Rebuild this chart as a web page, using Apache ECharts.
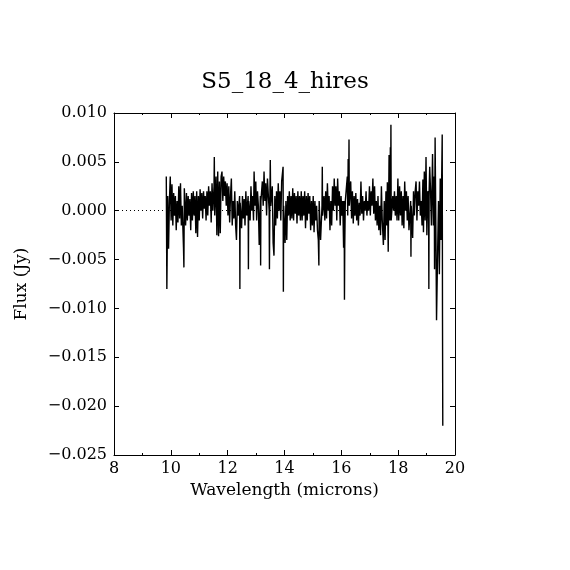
<!DOCTYPE html>
<html>
<head>
<meta charset="utf-8">
<script src="https://cdn.jsdelivr.net/npm/echarts@6/dist/echarts.min.js"></script>
<style>
  html, body { margin: 0; padding: 0; background: #fff; }
  #chart { width: 570px; height: 570px; }
</style>
</head>
<body>
<div id="chart"></div>
<script>
// 标题与坐标轴文字
const TITLE = 'S5_18_4_hires';
const X_NAME = 'Wavelength (microns)';
const Y_NAME = 'Flux (Jy)';

// 坐标轴范围与刻度
const X_RANGE = [8, 20];
const X_STEP = 2;
const Y_RANGE = [-0.025, 0.010];
const Y_STEP = 0.005;

// 光谱数据 [波长 (microns), 流量 (Jy)]
const spectrum = [
  [9.84, 0.0035], [9.86, -0.0080], [9.89, 0.0015], [9.92, -0.0039], [9.95, 0.0010],
  [9.98, 0.0035], [10.01, -0.0010], [10.04, 0.0027], [10.07, -0.0015], [10.10, 0.0018],
  [10.13, -0.0005], [10.16, 0.0015], [10.19, -0.0020], [10.22, 0.0010], [10.25, -0.0012],
  [10.28, 0.0025], [10.31, -0.0008], [10.34, 0.0028], [10.37, -0.0015], [10.40, 0.0005],
  [10.445, -0.0037], [10.46, -0.0058], [10.475, 0.0023], [10.52, -0.0015], [10.55, 0.0018],
  [10.58, -0.0010], [10.61, 0.0015], [10.64, -0.0005], [10.67, 0.0012], [10.70, -0.0020],
  [10.73, 0.0018], [10.76, -0.0010], [10.79, 0.0020], [10.82, -0.0005], [10.85, 0.0015],
  [10.88, -0.0023], [10.91, 0.0020], [10.94, -0.0027], [10.97, 0.0015], [11.00, -0.0010],
  [11.03, 0.0022], [11.06, 0.0000], [11.09, 0.0018], [11.12, -0.0008], [11.15, 0.0020],
  [11.18, 0.0002], [11.21, 0.0015], [11.24, -0.0010], [11.27, 0.0020], [11.30, -0.0005],
  [11.33, 0.0025], [11.36, 0.0005], [11.39, 0.0020], [11.42, -0.0012], [11.45, 0.0028],
  [11.48, 0.0000], [11.52, 0.0025], [11.53, 0.0055], [11.545, -0.0005], [11.59, 0.0035],
  [11.62, -0.0025], [11.65, 0.0040], [11.68, -0.0026], [11.71, 0.0030], [11.74, -0.0023],
  [11.77, 0.0035], [11.80, 0.0040], [11.83, 0.0010], [11.86, 0.0035], [11.89, 0.0015],
  [11.92, 0.0030], [11.95, 0.0005], [11.98, 0.0028], [12.01, -0.0005], [12.04, 0.0025],
  [12.07, -0.0012], [12.10, 0.0015], [12.13, 0.0033], [12.16, -0.0015], [12.19, 0.0010],
  [12.22, -0.0008], [12.25, 0.0020], [12.28, -0.0015], [12.31, -0.0030], [12.34, 0.0010],
  [12.37, -0.0005], [12.42, 0.0015], [12.43, -0.0080], [12.44, 0.0008], [12.49, -0.0018],
  [12.52, 0.0015], [12.55, -0.0008], [12.58, 0.0012], [12.61, -0.0015], [12.64, 0.0020],
  [12.67, -0.0005], [12.72, 0.0015], [12.73, -0.0060], [12.74, 0.0010], [12.79, -0.0010],
  [12.82, 0.0025], [12.85, 0.0000], [12.88, 0.0015], [12.91, -0.0010], [12.93, 0.0040],
  [12.96, 0.0005], [12.99, 0.0030], [13.02, -0.0010], [13.05, 0.0020], [13.08, 0.0005],
  [13.11, -0.0035], [13.15, 0.0015], [13.16, -0.0056], [13.17, 0.0010], [13.22, 0.0030],
  [13.25, 0.0005], [13.28, 0.0040], [13.31, 0.0010], [13.34, 0.0028], [13.37, -0.0005],
  [13.40, 0.0033], [13.46, 0.0000], [13.47, -0.0060], [13.485, 0.0010], [13.50, 0.0052],
  [13.515, 0.0005], [13.57, 0.0025], [13.60, -0.0033], [13.63, -0.0046], [13.66, 0.0015],
  [13.69, -0.0015], [13.72, 0.0020], [13.75, -0.0008], [13.78, 0.0028], [13.81, 0.0000],
  [13.84, 0.0020], [13.87, -0.0010], [13.90, 0.0030], [13.95, 0.0045], [13.96, -0.0083],
  [13.97, 0.0005], [14.02, -0.0033], [14.05, 0.0010], [14.08, -0.0030], [14.11, 0.0015],
  [14.14, -0.0005], [14.17, 0.0020], [14.20, -0.0010], [14.23, 0.0015], [14.26, -0.0008],
  [14.29, 0.0023], [14.32, -0.0010], [14.35, 0.0018], [14.38, -0.0003], [14.41, 0.0015],
  [14.44, -0.0013], [14.47, 0.0020], [14.50, -0.0005], [14.53, 0.0015], [14.56, -0.0010],
  [14.59, 0.0020], [14.62, -0.0010], [14.65, 0.0015], [14.68, -0.0005], [14.71, 0.0020],
  [14.74, -0.0018], [14.77, 0.0015], [14.80, -0.0010], [14.83, 0.0018], [14.86, -0.0003],
  [14.89, 0.0015], [14.92, -0.0020], [14.95, 0.0010], [14.98, -0.0015], [15.01, 0.0015],
  [15.04, -0.0022], [15.07, 0.0010], [15.10, -0.0010], [15.13, 0.0005], [15.16, -0.0020],
  [15.19, -0.0030], [15.21, -0.0056], [15.22, 0.0010], [15.27, -0.0030], [15.32, 0.0005],
  [15.33, 0.0045], [15.34, -0.0005], [15.39, 0.0015], [15.42, -0.0010], [15.45, 0.0020],
  [15.48, -0.0008], [15.51, 0.0028], [15.54, 0.0000], [15.57, 0.0015], [15.60, -0.0020],
  [15.63, 0.0010], [15.66, -0.0015], [15.69, 0.0025], [15.72, 0.0000], [15.75, 0.0033],
  [15.78, 0.0005], [15.81, 0.0025], [15.84, -0.0010], [15.87, 0.0033], [15.90, 0.0005],
  [15.93, 0.0020], [15.96, -0.0015], [15.99, 0.0015], [16.02, -0.0005], [16.05, 0.0010],
  [16.08, -0.0038], [16.10, 0.0010], [16.11, -0.0091], [16.12, -0.0038], [16.14, 0.0010],
  [16.18, 0.0010], [16.21, 0.0035], [16.225, -0.0005], [16.24, 0.0053], [16.255, 0.0005],
  [16.27, 0.0073], [16.28, 0.0005], [16.33, 0.0030], [16.36, -0.0008], [16.39, 0.0020],
  [16.42, -0.0013], [16.45, 0.0015], [16.48, -0.0005], [16.51, 0.0018], [16.54, -0.0010],
  [16.57, 0.0012], [16.60, -0.0015], [16.63, 0.0008], [16.66, -0.0005], [16.69, 0.0030],
  [16.72, -0.0003], [16.75, 0.0015], [16.78, -0.0010], [16.81, 0.0010], [16.84, 0.0000],
  [16.87, 0.0020], [16.90, -0.0005], [16.93, 0.0010], [16.96, 0.0000], [16.99, 0.0025],
  [17.02, -0.0005], [17.05, 0.0020], [17.08, 0.0005], [17.11, 0.0033], [17.14, -0.0003],
  [17.17, 0.0025], [17.20, -0.0010], [17.23, 0.0010], [17.26, -0.0015], [17.29, 0.0015],
  [17.32, -0.0020], [17.35, 0.0005], [17.38, -0.0025], [17.41, 0.0025], [17.44, -0.0010],
  [17.48, -0.0035], [17.51, 0.0010], [17.54, -0.0030], [17.57, 0.0020], [17.60, -0.0015],
  [17.62, 0.0029], [17.65, -0.0042], [17.68, 0.0057], [17.71, -0.0010], [17.725, 0.0065],
  [17.735, -0.0005], [17.745, 0.0088], [17.755, -0.0010], [17.81, 0.0015], [17.84, 0.0000],
  [17.87, 0.0020], [17.90, -0.0005], [17.93, 0.0015], [17.96, -0.0010], [17.99, 0.0033],
  [18.02, -0.0010], [18.05, 0.0025], [18.08, -0.0005], [18.11, 0.0020], [18.14, -0.0015],
  [18.17, 0.0015], [18.20, -0.0018], [18.23, 0.0030], [18.26, 0.0000], [18.29, 0.0020],
  [18.32, -0.0010], [18.35, 0.0015], [18.38, -0.0020], [18.44, 0.0010], [18.45, -0.0047],
  [18.46, 0.0005], [18.51, -0.0028], [18.54, 0.0020], [18.57, -0.0005], [18.60, 0.0020],
  [18.63, 0.0030], [18.66, -0.0010], [18.69, 0.0020], [18.72, 0.0005], [18.75, 0.0030],
  [18.78, -0.0005], [18.81, 0.0010], [18.84, -0.0015], [18.87, 0.0032], [18.89, -0.0022],
  [18.92, 0.0040], [18.95, -0.0010], [18.98, 0.0055], [19.01, -0.0025], [19.04, 0.0020],
  [19.07, 0.0010], [19.08, -0.0080], [19.09, 0.0020], [19.11, 0.0045], [19.14, 0.0020],
  [19.17, -0.0015], [19.21, 0.0058], [19.24, -0.0015], [19.27, 0.0035], [19.28, -0.0060],
  [19.30, 0.0075], [19.33, -0.0030], [19.35, -0.0112], [19.37, -0.0113], [19.39, -0.0040],
  [19.42, 0.0010], [19.45, -0.0065], [19.48, 0.0033], [19.51, -0.0030], [19.53, 0.0030],
  [19.55, 0.0078], [19.56, -0.0108], [19.57, -0.0220]
];

const FONT = 'DejaVu Serif';
const INK = '#000';

function fmtFlux(v) {
  // 用长减号显示负数
  return v.toFixed(3).replace('-', '\u2212');
}

const chart = echarts.init(document.getElementById('chart'), null, { renderer: 'canvas' });

// 四边框线，刻度朝内，不贴零点
const axisLine = { show: true, onZero: false, lineStyle: { color: INK, width: 1 } };
const majorTick = { show: true, inside: true, length: 5, lineStyle: { color: INK, width: 1 } };
const minorTickX = { show: true, splitNumber: 2, length: 2, lineStyle: { color: INK, width: 1 } };

const option = {
  backgroundColor: '#fff',
  animation: false,
  title: {
    text: TITLE,
    left: 'center',
    top: 66,
    textStyle: { fontFamily: FONT, fontSize: 23, fontWeight: 'normal', color: INK }
  },
  grid: { left: 114, right: 115, top: 113, bottom: 115 },
  xAxis: [
    {
      type: 'value',
      position: 'bottom',
      min: X_RANGE[0],
      max: X_RANGE[1],
      interval: X_STEP,
      name: X_NAME,
      nameLocation: 'middle',
      nameGap: 27,
      nameTextStyle: { fontFamily: FONT, fontSize: 17, color: INK },
      axisLine: axisLine,
      axisTick: majorTick,
      minorTick: minorTickX,
      axisLabel: { fontFamily: FONT, fontSize: 16, color: INK, margin: 6 },
      splitLine: { show: false },
      minorSplitLine: { show: false }
    },
    {
      type: 'value',
      position: 'top',
      min: X_RANGE[0],
      max: X_RANGE[1],
      interval: X_STEP,
      axisLine: axisLine,
      axisTick: majorTick,
      minorTick: minorTickX,
      axisLabel: { show: false },
      splitLine: { show: false },
      minorSplitLine: { show: false }
    }
  ],
  yAxis: [
    {
      type: 'value',
      position: 'left',
      min: Y_RANGE[0],
      max: Y_RANGE[1],
      interval: Y_STEP,
      name: Y_NAME,
      nameLocation: 'middle',
      nameGap: 84,
      nameTextStyle: { fontFamily: FONT, fontSize: 17, color: INK },
      axisLine: axisLine,
      axisTick: majorTick,
      axisLabel: { fontFamily: FONT, fontSize: 16, color: INK, margin: 7, formatter: fmtFlux },
      splitLine: { show: false }
    },
    {
      type: 'value',
      position: 'right',
      min: Y_RANGE[0],
      max: Y_RANGE[1],
      interval: Y_STEP,
      axisLine: axisLine,
      axisTick: majorTick,
      axisLabel: { show: false },
      splitLine: { show: false }
    }
  ],
  series: [
    {
      name: 'flux',
      type: 'line',
      data: spectrum,
      showSymbol: false,
      symbol: 'none',
      clip: true,
      z: 3,
      lineStyle: { color: INK, width: 1.4 },
      markLine: {
        silent: true,
        symbol: 'none',
        label: { show: false },
        z: 1,
        lineStyle: { color: INK, width: 1, type: [1, 3] },
        data: [{ yAxis: 0 }],
        animation: false
      }
    }
  ]
};

chart.setOption(option);
</script>
</body>
</html>
